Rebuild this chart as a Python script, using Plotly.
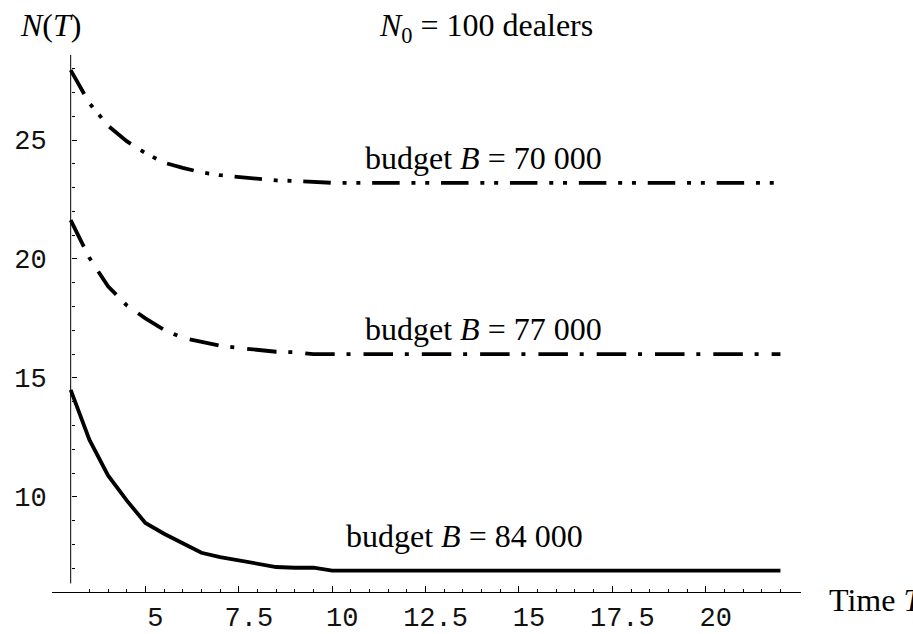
import plotly.graph_objects as go

# ---------------- data ----------------
T_vals = [3.0, 3.5, 4.0, 4.5, 5.0, 5.5, 6.0, 6.5, 7.0, 7.5, 8.0, 8.5, 9.0, 9.5, 10.0, 22.0]
N_70000 = [27.94, 26.55, 25.60, 24.95, 24.45, 24.05, 23.83, 23.64, 23.52, 23.46, 23.37, 23.30, 23.28, 23.22, 23.20, 23.20]
N_77000 = [21.63, 20.05, 18.85, 18.05, 17.50, 17.02, 16.68, 16.52, 16.35, 16.26, 16.18, 16.10, 16.08, 16.00, 16.00, 16.00]
N_84000 = [14.50, 12.40, 10.90, 9.85, 8.90, 8.45, 8.05, 7.65, 7.47, 7.33, 7.17, 7.05, 7.02, 7.02, 6.90, 6.90]

x_major = [5, 7.5, 10, 12.5, 15, 17.5, 20]
x_labels = ["5", "7.5", "10", "12.5", "15", "17.5", "20"]
x_minor = [v / 2 for v in range(7, 45) if (v / 2) not in x_major]
y_major = [10, 15, 20, 25]
y_labels = ["10", "15", "20", "25"]
y_minor = [v for v in range(7, 29) if v not in y_major]

budget_labels = ["budget <i>B</i> = 70 000", "budget <i>B</i> = 77 000", "budget <i>B</i> = 84 000"]

# ---------------- layout geometry ----------------
W, H = 913, 634
ML, MR, MT, MB = 52, 112, 52, 42
x_range = [2.5, 22.55]
y_range = [6.0, 28.7]
y_axis_at = 3.0

def px_x(p):
    return (p - ML) / (W - ML - MR)

def px_y(p):
    return 1 - (p - MT) / (H - MT - MB)

serif = "Liberation Serif"
mono = "Liberation Mono"
txt_size = 32

fig = go.Figure()

line_w = 3.8
fig.add_trace(go.Scatter(x=T_vals, y=N_70000, mode="lines",
                         line=dict(color="black", width=line_w,
                                   dash="27.5px,11.8px,4px,9.8px,4px,11.8px"),
                         showlegend=False, hoverinfo="skip"))
fig.add_trace(go.Scatter(x=T_vals, y=N_77000, mode="lines",
                         line=dict(color="black", width=line_w,
                                   dash="29.5px,11.8px,4px,13px"),
                         showlegend=False, hoverinfo="skip"))
fig.add_trace(go.Scatter(x=T_vals, y=N_84000, mode="lines",
                         line=dict(color="black", width=line_w),
                         showlegend=False, hoverinfo="skip"))

# y axis line (Mathematica style: does not reach the x axis)
fig.add_shape(type="line", xref="x", yref="y", x0=y_axis_at, x1=y_axis_at,
              y0=6.36, y1=28.58, line=dict(color="black", width=1))

annotations = [
    dict(text="<i>N</i>(<i>T</i>)", xref="paper", yref="paper",
         x=px_x(50), y=px_y(25), xanchor="center", yanchor="middle",
         font=dict(family=serif, size=txt_size, color="black")),
    dict(text="<i>N</i><sub>0</sub> = 100 dealers", xref="paper", yref="paper",
         x=px_x(485.6), y=px_y(27), xanchor="center", yanchor="middle",
         font=dict(family=serif, size=txt_size, color="black")),
    dict(text="Time <i>T</i>", xref="paper", yref="paper",
         x=px_x(826.5), y=px_y(600), xanchor="left", yanchor="middle",
         font=dict(family=serif, size=txt_size, color="black")),
    dict(text=budget_labels[0], xref="x", yref="y", x=14.05, y=24.25,
         xanchor="center", yanchor="middle",
         font=dict(family=serif, size=txt_size, color="black")),
    dict(text=budget_labels[1], xref="x", yref="y", x=14.05, y=17.06,
         xanchor="center", yanchor="middle",
         font=dict(family=serif, size=txt_size, color="black")),
    dict(text=budget_labels[2], xref="x", yref="y", x=13.55, y=8.36,
         xanchor="center", yanchor="middle",
         font=dict(family=serif, size=txt_size, color="black")),
]
for a in annotations:
    a["showarrow"] = False
fig.update_layout(annotations=annotations)

fig.update_layout(
    width=W, height=H, autosize=False,
    margin=dict(l=ML, r=MR, t=MT, b=MB, pad=0, autoexpand=False),
    paper_bgcolor="white", plot_bgcolor="white",
    showlegend=False,
    xaxis=dict(range=x_range, showgrid=False, zeroline=False, automargin=False,
               showline=True, linecolor="black", linewidth=1,
               tickmode="array", tickvals=x_major, ticktext=x_labels,
               ticks="inside", ticklen=6, tickwidth=1, tickcolor="black",
               minor=dict(tickmode="array", tickvals=x_minor, ticks="inside",
                          ticklen=3, tickwidth=1, tickcolor="black"),
               tickfont=dict(family=mono, size=27, color="#111111"),
               ticklabelshift=10, ticklabelstandoff=1),
    yaxis=dict(range=y_range, showgrid=False, zeroline=False, automargin=False,
               showline=False, anchor="free",
               position=(y_axis_at - x_range[0]) / (x_range[1] - x_range[0]),
               tickmode="array", tickvals=y_major, ticktext=y_labels,
               ticks="inside", ticklen=5, tickwidth=1, tickcolor="black",
               minor=dict(tickmode="array", tickvals=y_minor, ticks="inside",
                          ticklen=3, tickwidth=1, tickcolor="black"),
               tickfont=dict(family=mono, size=27, color="#111111"),
               ticklabelstandoff=24),
)

fig.write_html("out.html",
               config={"displayModeBar": False, "staticPlot": True},
               post_script="document.body.style.margin='0';document.body.style.overflow='hidden';")
